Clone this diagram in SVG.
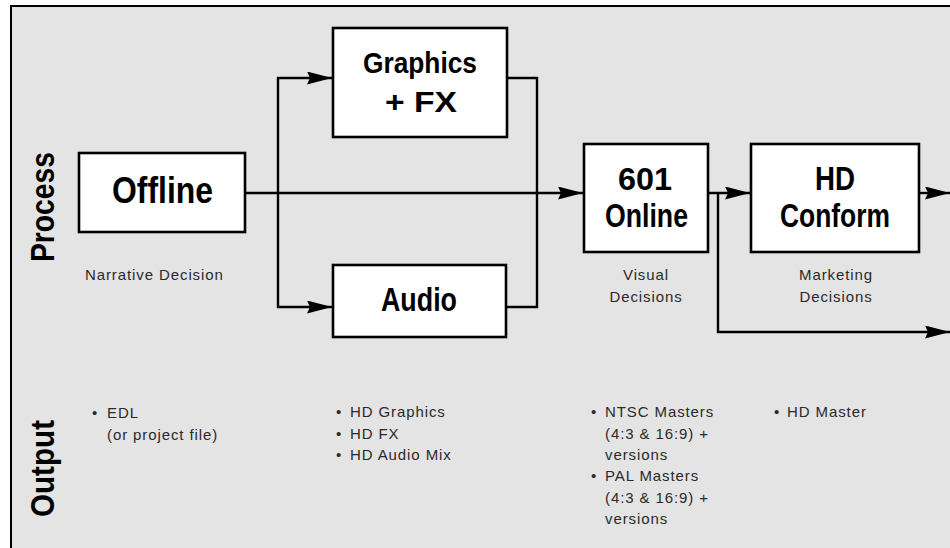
<svg xmlns="http://www.w3.org/2000/svg" width="950" height="548" viewBox="0 0 950 548">
<style>
.box{fill:#fff;stroke:#000;stroke-width:2.6}
.big{font-family:"Liberation Sans",Arial,sans-serif;font-weight:bold;fill:#000;text-anchor:middle}
.lbl{font-family:"Liberation Sans",Arial,sans-serif;font-size:15px;letter-spacing:0.9px;fill:#2a2a2a}
.mid{text-anchor:middle}
.side{font-family:"Liberation Sans",Arial,sans-serif;font-weight:bold;font-size:33px;fill:#000}
.ln{fill:none;stroke:#000;stroke-width:2.4}
</style>
<defs>
<marker id="ah" markerUnits="userSpaceOnUse" markerWidth="26" markerHeight="13" refX="25" refY="6.5" orient="auto">
<path d="M0,0 L25,6.5 L0,13 L3,6.5 z" fill="#000"/>
</marker>
</defs>
<rect x="11" y="6" width="960" height="560" fill="#e4e4e4" stroke="#000" stroke-width="2"/>

<g id="labels">
<text class="side" transform="translate(54,262) rotate(-90)" textLength="110" lengthAdjust="spacingAndGlyphs">Process</text>
<text class="side" transform="translate(54,517) rotate(-90)" textLength="97" lengthAdjust="spacingAndGlyphs">Output</text>
</g>

<g id="connectors">
<line class="ln" x1="245" y1="193" x2="583" y2="193" marker-end="url(#ah)"/>
<line class="ln" x1="278" y1="77" x2="278" y2="308"/>
<line class="ln" x1="277" y1="78" x2="332" y2="78" marker-end="url(#ah)"/>
<line class="ln" x1="277" y1="307" x2="332" y2="307" marker-end="url(#ah)"/>
<polyline class="ln" points="507,78 537,78 537,307 506,307"/>
<line class="ln" x1="708" y1="193" x2="750" y2="193" marker-end="url(#ah)"/>
<polyline class="ln" points="718,193 718,332 950,332" marker-end="url(#ah)"/>
<line class="ln" x1="919" y1="193" x2="950" y2="193" marker-end="url(#ah)"/>
</g>

<g id="offline">
<rect class="box" x="79" y="153" width="166" height="79"/>
<text class="big" x="162.5" y="203" font-size="37" textLength="101" lengthAdjust="spacingAndGlyphs">Offline</text>
<text class="lbl" x="85" y="280">Narrative Decision</text>
</g>

<g id="graphics">
<rect class="box" x="333" y="28" width="174" height="109"/>
<text class="big" x="420" y="73" font-size="30" textLength="114" lengthAdjust="spacingAndGlyphs">Graphics</text>
<text class="big" x="421" y="112" font-size="30" textLength="72" lengthAdjust="spacingAndGlyphs">+ FX</text>
</g>

<g id="audio">
<rect class="box" x="333" y="265" width="173" height="72"/>
<text class="big" x="419" y="311" font-size="33" textLength="76" lengthAdjust="spacingAndGlyphs">Audio</text>
</g>

<g id="online">
<rect class="box" x="584" y="144" width="124" height="108"/>
<text class="big" x="645" y="190" font-size="32" textLength="54" lengthAdjust="spacingAndGlyphs">601</text>
<text class="big" x="646.5" y="227" font-size="33" textLength="83" lengthAdjust="spacingAndGlyphs">Online</text>
<text class="lbl mid" x="646" y="280">Visual</text>
<text class="lbl mid" x="646" y="302">Decisions</text>
</g>

<g id="conform">
<rect class="box" x="751" y="144" width="168" height="108"/>
<text class="big" x="835" y="190" font-size="33" textLength="40" lengthAdjust="spacingAndGlyphs">HD</text>
<text class="big" x="835" y="227" font-size="33" textLength="110" lengthAdjust="spacingAndGlyphs">Conform</text>
<text class="lbl mid" x="836" y="280">Marketing</text>
<text class="lbl mid" x="836" y="302">Decisions</text>
</g>

<g id="outputs">
<text class="lbl" x="92" y="418">•<tspan x="107">EDL</tspan></text>
<text class="lbl" x="107" y="440">(or project file)</text>
<text class="lbl" x="336" y="417">•<tspan x="350">HD Graphics</tspan></text>
<text class="lbl" x="336" y="439">•<tspan x="350">HD FX</tspan></text>
<text class="lbl" x="336" y="460">•<tspan x="350">HD Audio Mix</tspan></text>
<text class="lbl" x="591" y="417">•<tspan x="605">NTSC Masters</tspan></text>
<text class="lbl" x="605" y="439">(4:3 &amp; 16:9) +</text>
<text class="lbl" x="605" y="460">versions</text>
<text class="lbl" x="591" y="481">•<tspan x="605">PAL Masters</tspan></text>
<text class="lbl" x="605" y="503">(4:3 &amp; 16:9) +</text>
<text class="lbl" x="605" y="524">versions</text>
<text class="lbl" x="774" y="417">•<tspan x="787">HD Master</tspan></text>
</g>
</svg>
